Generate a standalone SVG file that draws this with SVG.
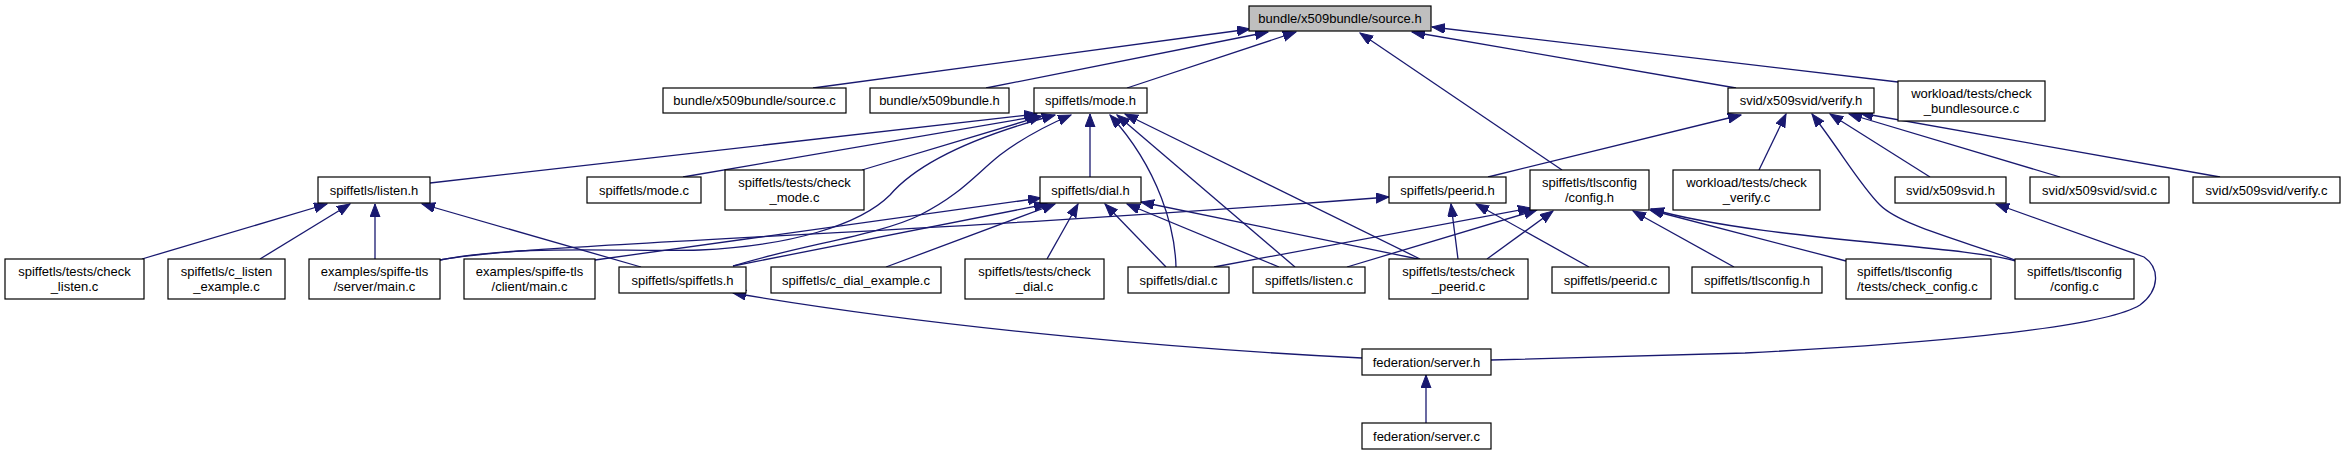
<svg xmlns="http://www.w3.org/2000/svg" width="2345" height="455" viewBox="0 0 2345 455">
<style>
.n rect{fill:#fff;stroke:#000;stroke-width:1.2}
#n_source_h rect{fill:#bfbfbf}
text{font-family:"Liberation Sans",Arial,sans-serif;font-size:13px;text-anchor:middle;fill:#000}
.e path{fill:none;stroke:#191970;stroke-width:1.3;marker-end:url(#a)}
</style>
<defs>
<marker id="a" markerUnits="userSpaceOnUse" markerWidth="14" markerHeight="11" refX="13" refY="5" orient="auto">
<path d="M0,0 L13,5 L0,10 Z" fill="#191970" stroke="#191970" stroke-width="1"/>
</marker>
</defs>
<rect width="2345" height="455" fill="#fff"/>
<g id="connectors" class="e">
<path d="M813,88 L1250,29"/>
<path d="M986,88 L1268,32"/>
<path d="M1127,88 L1296,32"/>
<path d="M1562,170 L1360,33"/>
<path d="M1736,88 L1412,32"/>
<path d="M1898,82 L1432,27"/>
<path d="M430,183 L1037,114"/>
<path d="M683,177 L1039,116"/>
<path d="M862,170 L1042,116"/>
<path d="M440,260 C520,244 620,252 700,250 C790,246 860,225 890,195 C920,160 980,135 1055,115"/>
<path d="M733,266 C800,245 880,235 920,215 C960,195 975,175 1000,155 C1020,140 1045,126 1071,115"/>
<path d="M1090,177 L1090,114"/>
<path d="M1176,267 C1175,230 1160,170 1110,115"/>
<path d="M1295,267 L1117,115"/>
<path d="M1420,259 L1125,114"/>
<path d="M142,259 L327,204"/>
<path d="M260,259 L350,204"/>
<path d="M375,259 L375,204"/>
<path d="M641,267 L422,204"/>
<path d="M595,260 L1041,198"/>
<path d="M733,266 L1047,204"/>
<path d="M886,267 L1055,204"/>
<path d="M1047,259 L1078,204"/>
<path d="M1166,267 L1105,204"/>
<path d="M1279,267 L1127,204"/>
<path d="M1418,259 L1141,202"/>
<path d="M440,260 C520,244 900,235 1389,197"/>
<path d="M1458,259 L1451,204"/>
<path d="M1589,267 L1476,204"/>
<path d="M1214,267 L1531,208"/>
<path d="M1347,267 L1537,210"/>
<path d="M1487,259 L1553,211"/>
<path d="M1734,267 L1633,211"/>
<path d="M1846,261 L1650,210"/>
<path d="M2016,261 C1960,245 1760,240 1651,209"/>
<path d="M1488,177 L1741,115"/>
<path d="M1759,170 L1786,114"/>
<path d="M2015,260 C1960,240 1900,225 1880,205 C1860,185 1840,150 1812,114"/>
<path d="M1930,177 L1830,114"/>
<path d="M2060,177 L1849,114"/>
<path d="M2220,177 L1860,113"/>
<path d="M1491,360 C1600,357 1700,355 1745,353 C1900,345 2100,330 2140,305 C2160,290 2160,268 2144,257 L1996,204"/>
<path d="M1362,358 C1200,350 950,330 733,293"/>
<path d="M1426,423 L1426,375"/>
</g>
<g id="n_source_h" class="n"><rect x="1249" y="6" width="182" height="25"/><text x="1340" y="23">bundle/x509bundle/source.h</text></g>
<g id="n_source_c" class="n"><rect x="663" y="88" width="183" height="25"/><text x="754.5" y="105">bundle/x509bundle/source.c</text></g>
<g id="n_x509bundle_h" class="n"><rect x="870" y="88" width="139" height="25"/><text x="939.5" y="105">bundle/x509bundle.h</text></g>
<g id="n_mode_h" class="n"><rect x="1034" y="88" width="113" height="25"/><text x="1090.5" y="105">spiffetls/mode.h</text></g>
<g id="n_verify_h" class="n"><rect x="1728" y="88" width="146" height="25"/><text x="1801" y="105">svid/x509svid/verify.h</text></g>
<g id="n_check_bundlesource_c" class="n"><rect x="1898" y="81" width="147" height="40"/><text x="1971.5" y="97.5">workload/tests/check</text><text x="1971.5" y="112.5">_bundlesource.c</text></g>
<g id="n_listen_h" class="n"><rect x="318" y="177" width="112" height="26"/><text x="374" y="194.5">spiffetls/listen.h</text></g>
<g id="n_mode_c" class="n"><rect x="587" y="177" width="114" height="26"/><text x="644" y="194.5">spiffetls/mode.c</text></g>
<g id="n_check_mode_c" class="n"><rect x="725" y="170" width="139" height="40"/><text x="794.5" y="186.5">spiffetls/tests/check</text><text x="794.5" y="201.5">_mode.c</text></g>
<g id="n_dial_h" class="n"><rect x="1040" y="177" width="101" height="26"/><text x="1090.5" y="194.5">spiffetls/dial.h</text></g>
<g id="n_peerid_h" class="n"><rect x="1389" y="177" width="117" height="26"/><text x="1447.5" y="194.5">spiffetls/peerid.h</text></g>
<g id="n_config_h" class="n"><rect x="1530" y="170" width="119" height="40"/><text x="1589.5" y="186.5">spiffetls/tlsconfig</text><text x="1589.5" y="201.5">/config.h</text></g>
<g id="n_check_verify_c" class="n"><rect x="1673" y="170" width="147" height="40"/><text x="1746.5" y="186.5">workload/tests/check</text><text x="1746.5" y="201.5">_verify.c</text></g>
<g id="n_x509svid_h" class="n"><rect x="1895" y="177" width="111" height="26"/><text x="1950.5" y="194.5">svid/x509svid.h</text></g>
<g id="n_svid_c" class="n"><rect x="2030" y="177" width="139" height="26"/><text x="2099.5" y="194.5">svid/x509svid/svid.c</text></g>
<g id="n_verify_c" class="n"><rect x="2193" y="177" width="147" height="26"/><text x="2266.5" y="194.5">svid/x509svid/verify.c</text></g>
<g id="n_check_listen_c" class="n"><rect x="5" y="259" width="139" height="40"/><text x="74.5" y="275.5">spiffetls/tests/check</text><text x="74.5" y="290.5">_listen.c</text></g>
<g id="n_c_listen_example_c" class="n"><rect x="168" y="259" width="117" height="40"/><text x="226.5" y="275.5">spiffetls/c_listen</text><text x="226.5" y="290.5">_example.c</text></g>
<g id="n_server_main_c" class="n"><rect x="309" y="259" width="131" height="40"/><text x="374.5" y="275.5">examples/spiffe-tls</text><text x="374.5" y="290.5">/server/main.c</text></g>
<g id="n_client_main_c" class="n"><rect x="464" y="259" width="131" height="40"/><text x="529.5" y="275.5">examples/spiffe-tls</text><text x="529.5" y="290.5">/client/main.c</text></g>
<g id="n_spiffetls_h" class="n"><rect x="619" y="267" width="127" height="26"/><text x="682.5" y="284.5">spiffetls/spiffetls.h</text></g>
<g id="n_c_dial_example_c" class="n"><rect x="771" y="267" width="170" height="26"/><text x="856" y="284.5">spiffetls/c_dial_example.c</text></g>
<g id="n_check_dial_c" class="n"><rect x="965" y="259" width="139" height="40"/><text x="1034.5" y="275.5">spiffetls/tests/check</text><text x="1034.5" y="290.5">_dial.c</text></g>
<g id="n_dial_c" class="n"><rect x="1128" y="267" width="101" height="26"/><text x="1178.5" y="284.5">spiffetls/dial.c</text></g>
<g id="n_listen_c" class="n"><rect x="1253" y="267" width="112" height="26"/><text x="1309" y="284.5">spiffetls/listen.c</text></g>
<g id="n_check_peerid_c" class="n"><rect x="1389" y="259" width="139" height="40"/><text x="1458.5" y="275.5">spiffetls/tests/check</text><text x="1458.5" y="290.5">_peerid.c</text></g>
<g id="n_peerid_c" class="n"><rect x="1552" y="267" width="117" height="26"/><text x="1610.5" y="284.5">spiffetls/peerid.c</text></g>
<g id="n_tlsconfig_h" class="n"><rect x="1692" y="267" width="130" height="26"/><text x="1757" y="284.5">spiffetls/tlsconfig.h</text></g>
<g id="n_check_config_c" class="n"><rect x="1846" y="259" width="145" height="40"/><text x="1857" y="275.5" style="text-anchor:start">spiffetls/tlsconfig</text><text x="1857" y="290.5" style="text-anchor:start">/tests/check_config.c</text></g>
<g id="n_config_c" class="n"><rect x="2015" y="259" width="119" height="40"/><text x="2074.5" y="275.5">spiffetls/tlsconfig</text><text x="2074.5" y="290.5">/config.c</text></g>
<g id="n_server_h" class="n"><rect x="1362" y="349" width="129" height="26"/><text x="1426.5" y="366.5">federation/server.h</text></g>
<g id="n_server_c" class="n"><rect x="1362" y="423" width="129" height="26"/><text x="1426.5" y="440.5">federation/server.c</text></g>
</svg>
